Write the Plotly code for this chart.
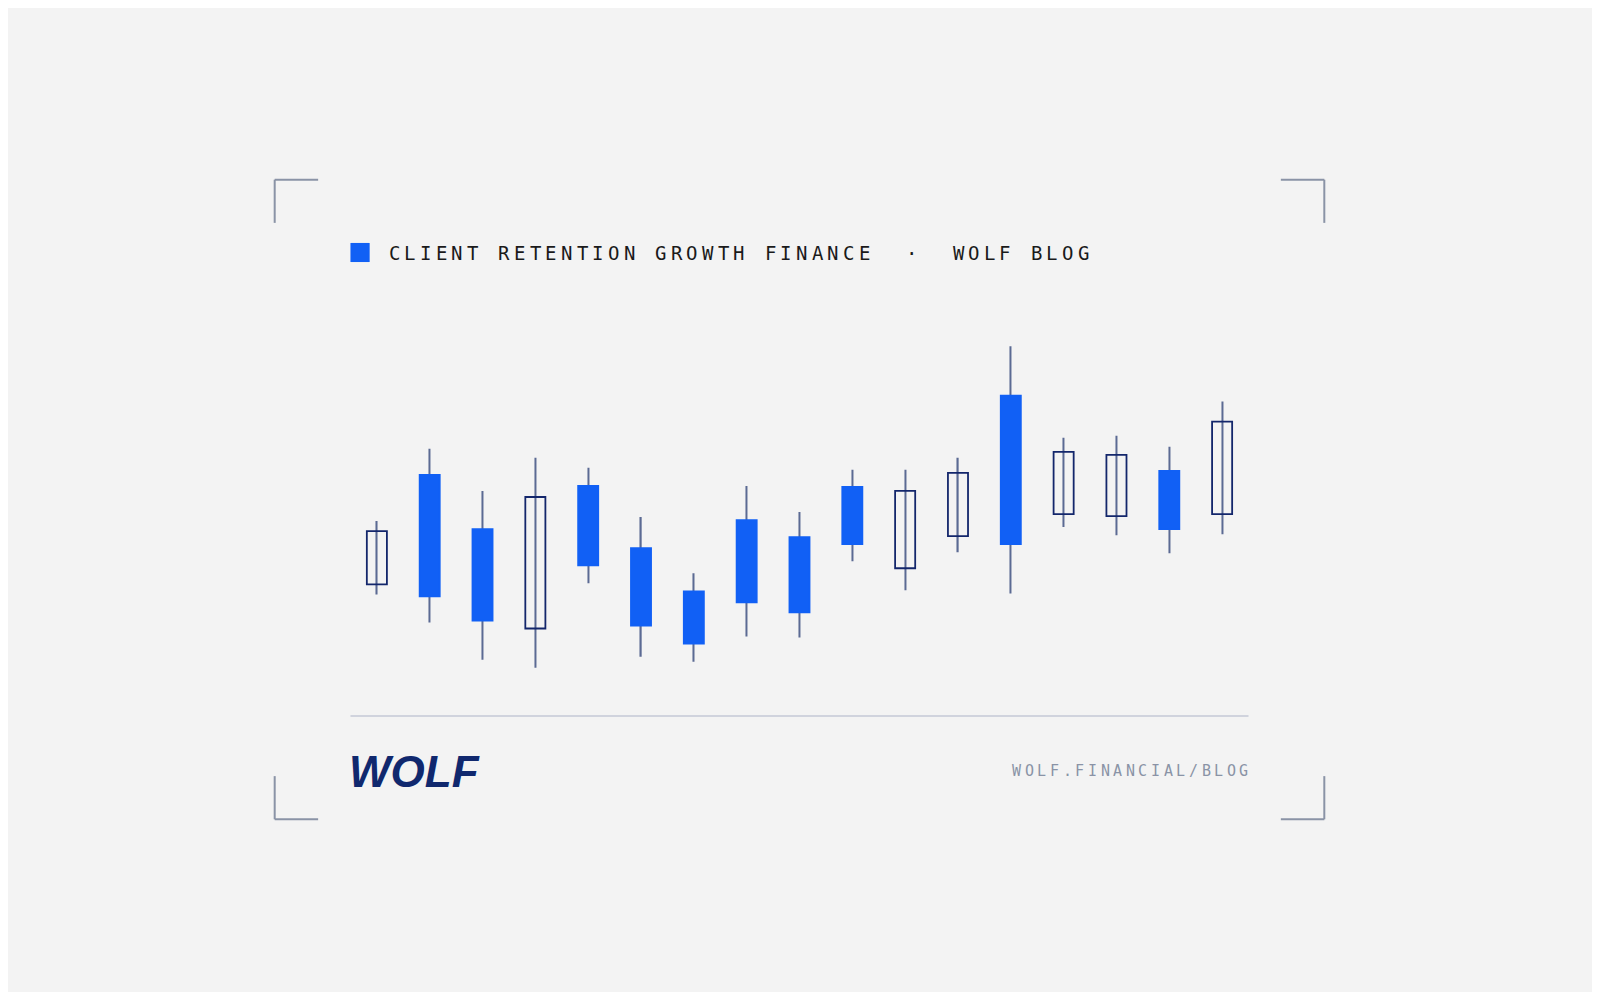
import plotly.graph_objects as go

W, H = 1568.0, 980.0
# candle values (index units, higher = up)
periods = list(range(17))
opens  = [126, 235, 181, 82, 224, 162, 119, 190, 173, 223, 142, 174, 314, 196, 194, 239, 196]
closes = [179, 114, 90, 213, 145, 85, 67, 108, 98, 166, 219, 237, 166, 258, 255, 181, 288]
highs  = [189, 261, 219, 252, 242, 193, 137, 224, 198, 240, 240, 252, 363, 272, 274, 263, 308]
lows   = [116, 88, 51, 43, 127, 54, 49, 74, 73, 149, 120, 158, 117, 183, 175, 157, 176]

BLUE = "#1160f5"; NAVY = "#13266b"; WICK = "#5b6a93"
fig = go.Figure()
fig.add_bar(x=periods, base=lows, y=[h - l for h, l in zip(highs, lows)], width=0.025,
            marker=dict(color=WICK, line=dict(width=0)), hoverinfo="skip")
rising = [c > o for o, c in zip(opens, closes)]
fig.add_bar(x=periods, base=[min(o, c) for o, c in zip(opens, closes)],
            y=[abs(c - o) for o, c in zip(opens, closes)], width=0.38,
            marker=dict(color=["rgba(0,0,0,0)" if r else BLUE for r in rising],
                        line=dict(color=[NAVY if r else BLUE for r in rising], width=1.8)))

shapes = []
def L(x0, y0, x1, y1, color="#8a93a6", w=2):
    shapes.append(dict(type="line", xref="paper", yref="paper", x0=x0 / W, x1=x1 / W,
                       y0=1 - y0 / H, y1=1 - y1 / H, line=dict(color=color, width=w)))
for (cx, cy, dx, dy) in [(264, 171, 1, 1), (1303, 171, -1, 1), (264, 808, 1, -1), (1303, 808, -1, -1)]:
    L(cx, cy, cx + 43 * dx, cy); L(cx, cy, cx, cy + 43 * dy)
L(339, 705, 1228, 705, color="#c5c9d6", w=1.5)
shapes.append(dict(type="rect", xref="paper", yref="paper", x0=339 / W, x1=358 / W,
                   y0=1 - 253 / H, y1=1 - 234 / H, fillcolor=BLUE, line=dict(width=0)))

ann = []
title = "CLIENT RETENTION GROWTH FINANCE  ·  WOLF BLOG"
for i, ch in enumerate(title):
    if ch != " ":
        ann.append(dict(text=ch, x=(375 + 15.5 * i) / W, y=1 - 244 / H, xref="paper", yref="paper",
                        xanchor="left", yanchor="middle", showarrow=False,
                        font=dict(family="DejaVu Sans Mono", size=19, color="#1a1a1a")))
url = "WOLF.FINANCIAL/BLOG"
for i, ch in enumerate(url):
    ann.append(dict(text=ch, x=(992 + 12.5 * i) / W, y=1 - 760 / H, xref="paper", yref="paper",
                    xanchor="left", yanchor="middle", showarrow=False,
                    font=dict(family="DejaVu Sans Mono", size=15, color="#8a93a6")))
ann.append(dict(text="<b><i>WOLF</i></b>", x=336 / W, y=1 - 760 / H, xref="paper", yref="paper",
                xanchor="left", yanchor="middle", showarrow=False,
                font=dict(family="Liberation Sans", size=44, color="#10286e")))

fig.update_layout(
    paper_bgcolor="#f3f3f3", plot_bgcolor="#f3f3f3", margin=dict(l=0, r=0, t=0, b=0),
    barmode="overlay", showlegend=False, shapes=shapes, annotations=ann,
    xaxis=dict(domain=[339 / W, 1228 / W], range=[-0.5, 16.5], visible=False),
    yaxis=dict(domain=[1 - 700 / H, 1 - 300 / H], range=[0, 400], visible=False),
)
fig.write_html("out.html")
